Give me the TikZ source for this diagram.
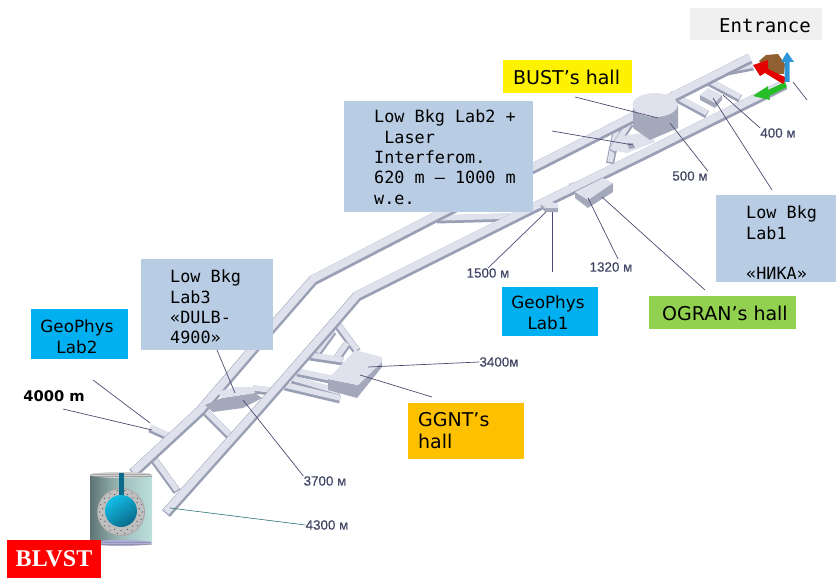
\documentclass[tikz,border=0pt]{standalone}
\usepackage{fontspec}
\setmainfont{DejaVu Sans}
\setmonofont{DejaVu Sans Mono}
\newfontfamily\distfont[FakeBold=0.35]{Liberation Sans}
\newfontfamily\tagfont{Liberation Serif}
\usetikzlibrary{shadings}

\definecolor{labblue}{HTML}{B8CCE4}
\definecolor{geoblue}{HTML}{00B0F0}
\definecolor{ogrgreen}{HTML}{92D050}
\definecolor{ggntorange}{HTML}{FFC000}
\definecolor{distcolor}{HTML}{3F4563}
\definecolor{tunneltopc}{HTML}{DFE2EC}
\definecolor{tunnelsidec}{HTML}{999FB4}
\definecolor{hallsidec}{HTML}{A3A9BB}
\definecolor{leaderc}{HTML}{4F4A70}
\definecolor{ballhi}{HTML}{12BEE8}
\definecolor{balllo}{HTML}{0A6A8A}
\definecolor{tankdark}{HTML}{5E7474}
\definecolor{tankmid}{HTML}{9DBDBB}
\definecolor{tanklight}{HTML}{BDE0DC}

\begin{document}
\begin{tikzpicture}[
  x=1pt,
  y=-1pt,
  tunnel/.style={
    preaction={draw=tunnelsidec,line width=10.5pt,transform canvas={yshift=-1.5pt}},
    draw=tunneltopc,
    line width=7.5pt,
    line join=round
  },
  drift/.style={
    preaction={draw=tunnelsidec,line width=8pt,transform canvas={yshift=-1.5pt}},
    draw=tunneltopc,
    line width=5.5pt
  },
  leader/.style={
    draw=leaderc,
    line width=.7pt
  },
  labbox/.style={
    fill=labblue,
    anchor=north west,
    inner sep=0pt
  },
  labtext/.style={
    anchor=north west,
    align=left,
    inner sep=0pt,
    font=\fontsize{16.8}{20.3}\selectfont\ttfamily
  },
  hallbox/.style={
    anchor=north west,
    inner sep=0pt,
    font=\fontsize{19}{22}\selectfont
  },
  dist/.style={
    inner sep=0pt,
    text=distcolor,
    font=\fontsize{13.4}{15}\selectfont\distfont
  },
]
\useasboundingbox (0,0) rectangle (836,578);

% tunnels
\draw[drift] (203,408) -- (230,435);
\draw[drift] (153,457) -- (177,490);
\draw[drift] (150,427) -- (172,437);
\draw[drift] (337,323) -- (357,350);
\draw[drift] (333,330) -- (317,352);
\draw[drift] (347,343) -- (337,357);
\draw[drift] (310,355) -- (343,360);
\draw[drift] (297,371) -- (330,378);
\draw[drift] (292,378) -- (340,392);
\draw[drift] (285,385) -- (340,398);
\draw[drift] (253,388) -- (272,390);
\draw[drift] (437,218) -- (510,216);
\draw[drift] (617,128) -- (610,162);
\draw[drift] (630,122) -- (612,150);
\draw[drift] (670,93) -- (707,113);
\draw[drift] (708,80) -- (740,97);
\draw[drift] (727,70) -- (753,65);
\draw[drift] (570,186) -- (590,181);
\draw[tunnel] (133,472) -- (200,410) -- (273,325) -- (313,279) -- (437,215) -- (535,166) -- (750,57);
\draw[tunnel] (166,512) -- (257,410) -- (333,323) -- (357,295) -- (533,207) -- (640,155) -- (785,83);

% halls
\fill[tunneltopc] (622,136) -- (650,132) -- (655,142) -- (627,153) -- (615,151) -- cycle;
\fill[hallsidec] (627,143) -- (633,143) -- (635,148) -- (629,149) -- cycle;
\fill[hallsidec] (575,192) -- (575,198) -- (588,208) -- (613,192) -- (613,183) -- cycle;
\fill[tunneltopc] (575,192) -- (603,178) -- (613,183) -- (588,200) -- cycle;
\fill[hallsidec] (540,205) -- (545,212) -- (558,212) -- (558,207) -- cycle;
\fill[tunneltopc] (540,203) -- (545,200) -- (558,204) -- (558,208) -- (545,208) -- cycle;
\fill[hallsidec] (700,95) -- (700,100) -- (715,108) -- (722,100) -- (722,95) -- cycle;
\fill[tunneltopc] (700,95) -- (708,88) -- (722,95) -- (715,103) -- cycle;
\fill[hallsidec] (205,405) -- (222,398) -- (255,393) -- (262,398) -- (243,408) -- (213,412) -- cycle;
\fill[tunneltopc] (217,392) -- (235,387) -- (253,387) -- (255,393) -- (222,398) -- cycle;
\fill[hallsidec] (328,379) -- (358,385) -- (382,362) -- (382,367) -- (357,398) -- (328,390) -- cycle;
\fill[tunneltopc] (328,379) -- (355,350) -- (382,357) -- (382,362) -- (358,385) -- cycle;
\fill[hallsidec] (633,105) -- (633,128) -- (650,140) -- (678,128) -- (678,105) -- cycle;
\fill[tunneltopc] (655,105) ellipse [x radius=22.5, y radius=12];

% entrance
\fill[brown!75!black] (759,61) -- (766,55) -- (778,54) -- (785,64) -- (784,74) -- (770,74) -- cycle;
\fill[green!70!black!85] (785,82) -- (768,90) -- (768,86) -- (753,96) -- (770,100) -- (769,96) -- (787,87) -- cycle;
\fill[red!90!black] (787,78) -- (768,69) -- (768,60) -- (753,65) -- (760,76) -- (765,73) -- (783,84) -- cycle;
\fill[cyan!70!blue!85] (784.5,82) -- (784.5,62) -- (781,62) -- (787,52) -- (794,62) -- (789.5,62) -- (789.5,82) -- cycle;

% detector
\shade[left color=tankdark,right color=tanklight,middle color=tankmid] (90,475) rectangle (152,543);
\fill[gray!35] (121,475) ellipse [x radius=31, y radius=3];
\fill[blue!40!gray!45] (121,543) ellipse [x radius=31, y radius=3];
\foreach \i in {0,...,29}{
  \fill[black!55] (92+2*\i,474.2) circle (.6) (93+2*\i,476.4) circle (.6);
  \fill[black!55] (92+2*\i,542.2) circle (.6) (93+2*\i,544.4) circle (.6);
}
\fill[gray!70] (121,512) circle (24);
\fill[gray!50] (121,512) circle (23);
\foreach \a in {0,20,...,340}{
  \fill[black!70] (121,512) ++(\a:21.5) circle (.6);
  \fill[black!70] (121,512) ++(\a+10:18.5) circle (.6);
}
\fill[balllo] (118.5,473) rectangle (123.5,497);
\shade[top color=ballhi,bottom color=balllo,shading angle=35] (121,511) circle (16);

% labels in the picture
\node[dist] (d400) at (778,133) {400 м};
\node[dist] (d500) at (690,176) {500 м};
\node[dist] (d1320) at (611,267) {1320 м};
\node[dist] (d1500) at (488,273) {1500 м};
\node[dist] (d3400) at (499,362) {3400м};
\node[dist] (d3700) at (325,481) {3700 м};
\node[dist] (d4300) at (327,525) {4300 м};
\node[inner sep=0pt,font=\fontsize{14.7}{16}\selectfont\bfseries] (d4000) at (54,396) {4000 m};

% boxes
\node[labbox,fill=black!6,minimum width=132pt,minimum height=32pt] (entrance) at (690,8) {};
\node[labtext,font=\fontsize{19}{22}\selectfont\ttfamily] (entrancetxt) at (719,18) {Entrance};
\node[hallbox,fill=yellow,minimum width=129pt,minimum height=33pt] (bust) at (503,60) {};
\node[hallbox] (busttxt) at (513,70) {BUST’s hall};
\node[labbox,minimum width=189pt,minimum height=111pt] (lab2) at (344,101) {};
\node[labtext] (lab2txt) at (374,110) {Low Bkg Lab2 +\\\mbox{}\ Laser\\Interferom.\\620 m – 1000 m\\w.e.};
\node[labbox,minimum width=120pt,minimum height=87pt] (lab1) at (716,195) {};
\node[labtext] (lab1txt) at (746,206) {Low Bkg\\Lab1\\\mbox{}\\«НИКА»};
\node[labbox,minimum width=132pt,minimum height=91pt] (lab3) at (141,259) {};
\node[labtext] (lab3txt) at (170,270) {Low Bkg\\Lab3\\«DULB-\\4900»};
\node[hallbox,fill=geoblue,minimum width=96pt,minimum height=49pt] (geo1) at (502,287) {};
\node[hallbox,align=center,anchor=center,font=\fontsize{16.8}{21}\selectfont] (geo1txt) at (548,313) {GeoPhys\\Lab1};
\node[hallbox,fill=geoblue,minimum width=97pt,minimum height=50pt] (geo2) at (31,309) {};
\node[hallbox,align=center,anchor=center,font=\fontsize{16.8}{21}\selectfont] (geo2txt) at (77,337) {GeoPhys\\Lab2};
\node[hallbox,fill=ogrgreen,minimum width=147pt,minimum height=33pt] (ogran) at (649,296) {};
\node[hallbox] (ograntxt) at (662,306) {OGRAN’s hall};
\node[hallbox,fill=ggntorange,minimum width=116pt,minimum height=56pt] (ggnt) at (408,403) {};
\node[hallbox,align=left,font=\fontsize{19}{22.5}\selectfont] (ggnttxt) at (418,412) {GGNT’s\\hall};
\node[fill=red,text=white,inner sep=0pt,minimum width=94pt,minimum height=38pt,font=\fontsize{24}{26}\selectfont\tagfont\bfseries] (blvst) at (54,559) {BLVST};

% leaders
\coordinate (entrancefoot) at (793,82);
\coordinate (entrancetail) at (807,100);
\coordinate (hall400) at (723,95);
\coordinate (hallnika) at (713,98);
\coordinate (nikatail) at (772,190);
\coordinate (hall500) at (670,123);
\coordinate (busthall) at (658,118);
\coordinate (busttail) at (575,97);
\coordinate (lab2hall) at (633,145);
\coordinate (lab2tail) at (552,131);
\coordinate (hall1320) at (588,198);
\coordinate (tail1320) at (618,259);
\coordinate (ograntail) at (705,290);
\coordinate (ogranhall) at (602,197);
\coordinate (hall1500) at (546,212);
\coordinate (geo1hall) at (552,212);
\coordinate (geo1tail) at (552,272);
\coordinate (hall3400) at (368,367);
\coordinate (ggnthall) at (360,375);
\coordinate (ggnttail) at (432,397);
\coordinate (lab3tail) at (217,350);
\coordinate (lab3hall) at (235,393);
\coordinate (hall3700) at (243,400);
\coordinate (geo2tail) at (93,380);
\coordinate (geo2hall) at (150,423);
\coordinate (hall4000) at (152,430);
\coordinate (tail4000) at (63,409);
\coordinate (hall4300) at (170,508);
\draw[leader] (entrancefoot) -- (entrancetail);
\draw[leader] (hall400) -- (d400.north west);
\draw[leader] (hallnika) -- (nikatail);
\draw[leader] (hall500) -- (d500.north east);
\draw[leader] (busttail) -- (busthall);
\draw[leader] (lab2tail) -- (lab2hall);
\draw[leader] (hall1320) -- (tail1320);
\draw[leader] (ogranhall) -- (ograntail);
\draw[leader] (hall1500) -- (d1500.north);
\draw[leader] (geo1hall) -- (geo1tail);
\draw[leader] (hall3400) -- (d3400.west);
\draw[leader] (ggnthall) -- (ggnttail);
\draw[leader] (lab3tail) -- (lab3hall);
\draw[leader] (hall3700) -- (d3700.north west);
\draw[leader] (geo2tail) -- (geo2hall);
\draw[leader] (tail4000) -- (hall4000);
\draw[leader,draw=teal!50!gray] (hall4300) -- (d4300.west);
\end{tikzpicture}
\end{document}
